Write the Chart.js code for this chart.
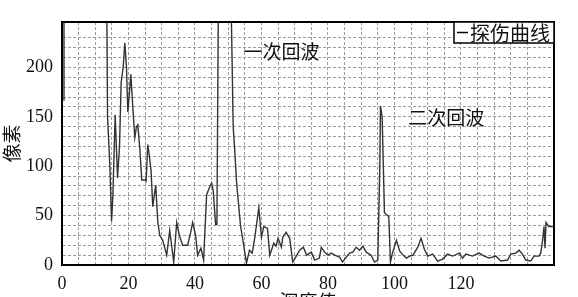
<!DOCTYPE html>
<html lang="zh">
<head>
    <meta charset="UTF-8">
    <title>探伤曲线</title>
    <style>
        html, body { margin: 0; padding: 0; background: #fff; overflow: hidden; }
        #wrap { width: 578px; height: 297px; overflow: hidden; }
    </style>
</head>
<body>
<div id="wrap">
    <canvas id="myChart" width="578" height="320"></canvas>
</div>
<script src="https://cdn.jsdelivr.net/npm/chart.js@4"></script>
<script>
// depth (x) and pixel value (y); 300 = saturated, above the plot
var depth = [0.4, 0.6, 13.4, 13.7, 14.4, 14.9, 15.3, 16.0, 16.7, 17.3, 17.8, 18.4, 18.9, 19.4, 19.8,
    20.3, 20.7, 21.3, 21.9, 22.4, 22.8, 23.4, 24.0, 25.0, 25.3, 25.8, 26.3, 26.8, 27.3, 28.2, 28.8,
    29.4, 30.3, 31.5, 32.4, 33.6, 34.5, 35.3, 36.3, 37.8, 38.7, 39.3, 40.2, 40.8, 41.8, 42.6, 43.5,
    44.4, 45.0, 45.5, 46.2, 46.6, 47.1, 50.7, 51.5, 52.0, 52.5, 53.7, 55.5, 56.4, 57.2, 58.0, 59.2,
    60.0, 60.7, 61.8, 62.5, 63.7, 64.4, 65.0, 66.0, 66.4, 67.4, 68.5, 69.4, 70.3, 71.5, 72.6, 73.6,
    75.0, 76.0, 77.4, 78.0, 79.0, 80.0, 81.0, 82.0, 83.5, 84.4, 85.5, 86.5, 87.5, 88.5, 89.5, 90.5,
    91.5, 93.0, 94.0, 95.0, 95.6, 95.8, 96.3, 97.0, 98.3, 98.8, 99.4, 100.6, 101.6, 102.6, 103.6,
    104.6, 105.6, 107.0, 108.0, 109.0, 110.0, 111.5, 113.0, 114.5, 116.0, 117.5, 119.5, 120.5, 121.5,
    123.5, 125.5, 127.0, 128.5, 130.5, 132.0, 134.0, 135.0, 136.5, 137.5, 138.5, 139.5, 141.0, 142.0,
    143.5, 144.0, 144.5, 145.0, 145.3, 145.6, 146.4, 148];
var pixel = [167, 300, 300, 150, 100, 44, 70, 152, 88, 120, 185, 200, 225, 200, 155,
    175, 193, 160, 129, 140, 142, 118, 86, 86, 85, 122, 110, 95, 59, 81, 44,
    30, 25, 10, 35, 3, 43, 30, 20, 20, 33, 43, 30, 10, 17, 5, 71,
    79, 83, 75, 41, 41, 300, 300, 140, 114, 84, 40, 2, 15, 12, 28, 58,
    28, 39, 37, 10, 22, 19, 27, 18, 28, 33, 27, 3, 8, 15, 18, 10,
    13, 5, 7, 18, 13, 10, 12, 10, 8, 3, 8, 12, 13, 18, 15, 19,
    13, 10, 3, 5, 100, 161, 150, 53, 49, 3, 12, 25, 14, 10, 7,
    9, 10, 18, 27, 16, 9, 11, 4, 6, 11, 9, 12, 7, 11,
    9, 12, 9, 7, 9, 4, 5, 11, 12, 15, 11, 5, 4, 9,
    9, 12, 23, 39, 17, 43, 39, 39];

var xLabels = [0, 20, 40, 60, 80, 100, 120];
var yLabels = [0, 50, 100, 150, 200];

var seriesName = '探伤曲线';
var noteText = ['一次回波', '二次回波'];
var noteAt = [[66, 216], [115.6, 149]];

var cjk = '"Noto Sans CJK SC", sans-serif';
var serif = '"Liberation Serif", "DejaVu Serif", serif';

var points = depth.map(function (d, i) { return { x: d, y: pixel[i] }; });

// frame, legend box and the two echo labels
var extras = {
    id: 'extras',
    afterDraw: function (chart) {
        var ctx = chart.ctx, a = chart.chartArea;
        ctx.save();
        ctx.strokeStyle = '#000';
        ctx.lineWidth = 2;
        ctx.strokeRect(a.left, a.top, a.right - a.left, a.bottom - a.top);

        ctx.font = '19px ' + cjk;
        ctx.fillStyle = '#111';
        ctx.textAlign = 'center';
        ctx.textBaseline = 'middle';
        for (var i = 0; i < noteText.length; i++) {
            var px = chart.scales.x.getPixelForValue(noteAt[i][0]);
            var py = chart.scales.y.getPixelForValue(noteAt[i][1]);
            ctx.fillText(noteText[i], px, py);
        }

        // legend box in the top right corner
        ctx.font = '20px ' + cjk;
        var tw = ctx.measureText(seriesName).width;
        var bw = tw + 20, bh = 21;
        var bx = a.right - bw, by = a.top;
        ctx.fillStyle = '#fff';
        ctx.fillRect(bx, by, bw, bh);
        ctx.lineWidth = 1.5;
        ctx.strokeRect(bx, by, bw, bh);
        ctx.beginPath();
        ctx.moveTo(bx + 3, by + bh / 2);
        ctx.lineTo(bx + 14, by + bh / 2);
        ctx.stroke();
        ctx.fillStyle = '#111';
        ctx.textAlign = 'left';
        ctx.fillText(seriesName, bx + 16, by + bh / 2 + 1);
        ctx.restore();
    }
};

new Chart(document.getElementById('myChart').getContext('2d'), {
    type: 'line',
    data: {
        datasets: [{
            label: seriesName,
            data: points,
            borderColor: '#333',
            borderWidth: 1.4,
            pointRadius: 0,
            tension: 0,
            fill: false
        }]
    },
    options: {
        responsive: false,
        animation: false,
        layout: { padding: { top: 22, right: 24, left: 0, bottom: 0 } },
        plugins: { legend: { display: false }, tooltip: { enabled: false } },
        scales: {
            x: {
                type: 'linear',
                min: 0,
                max: 148,
                border: { display: true, color: '#000', width: 2, dash: [3, 2] },
                grid: { color: '#9a9a9a', lineWidth: 1, drawTicks: false },
                ticks: {
                    stepSize: 5,
                    padding: 8,
                    maxRotation: 0,
                    autoSkip: false,
                    color: '#111',
                    font: { family: serif, size: 18 },
                    callback: function (v) { return xLabels.indexOf(v) >= 0 ? String(v) : ''; }
                },
                title: {
                    display: true,
                    text: '深度值',
                    color: '#111',
                    font: { family: cjk, size: 19 },
                    padding: { top: 0, bottom: 7 }
                },
                afterFit: function (s) { s.height = 55; }
            },
            y: {
                min: 0,
                max: 246,
                border: { display: true, color: '#000', width: 2, dash: [3, 2] },
                grid: { color: '#9a9a9a', lineWidth: 1, drawTicks: false },
                ticks: {
                    stepSize: 10,
                    padding: 9,
                    autoSkip: false,
                    color: '#111',
                    font: { family: serif, size: 18 },
                    callback: function (v) { return yLabels.indexOf(v) >= 0 ? String(v) : ''; }
                },
                title: {
                    display: true,
                    text: '像素',
                    color: '#111',
                    font: { family: cjk, size: 19 },
                    padding: { top: 0, bottom: 0 }
                },
                afterFit: function (s) { s.width = 62; }
            }
        }
    },
    plugins: [extras]
});
</script>
</body>
</html>
